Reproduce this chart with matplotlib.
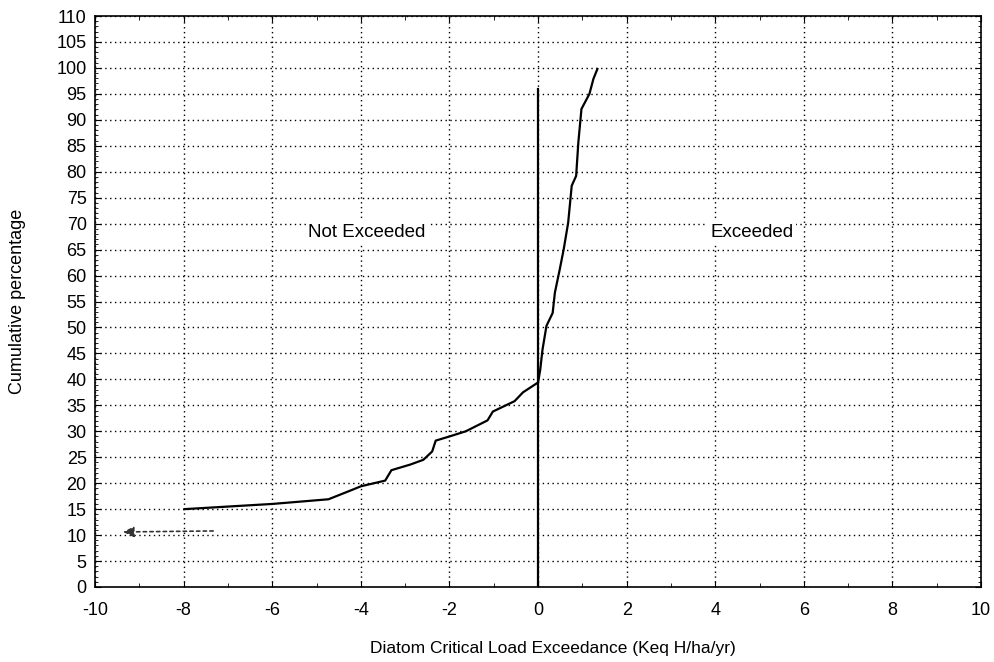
import matplotlib
matplotlib.use("Agg")
import matplotlib.pyplot as plt
from matplotlib.ticker import MultipleLocator

plt.rcParams['font.family'] = ['Liberation Sans', 'DejaVu Sans']
plt.rcParams['axes.unicode_minus'] = False

# Cumulative distribution curve
exceedance = [-7.98, -6.0, -4.73, -4.2, -4.0, -3.45, -3.31, -2.88, -2.59, -2.39, -2.31,
              -2.0, -1.63, -1.14, -1.02, -0.53, -0.34, 0.0, 0.05, 0.1, 0.19, 0.33,
              0.38, 0.49, 0.58, 0.68, 0.76, 0.86, 0.91, 0.98, 1.16, 1.25, 1.34]
cum_pct = [15.0, 16.0, 16.9, 18.7, 19.4, 20.5, 22.5, 23.6, 24.5, 26.1, 28.2,
           29.0, 30.0, 32.1, 33.8, 35.8, 37.5, 39.4, 41.9, 45.7, 50.3, 52.8,
           56.7, 61.2, 65.1, 70.2, 77.3, 79.2, 85.7, 92.1, 95.0, 97.9, 99.8]

# Zero-exceedance divider line
divider_x = [0, 0]
divider_y = [0, 96]

# Arrow (off-scale values)
arrow_tail = (-7.27, 10.8)
arrow_tip = (-9.43, 10.6)

region_labels = ["Not Exceeded", "Exceeded"]
region_pos = [(-3.86, 68.3), (4.83, 68.3)]

fig = plt.figure(figsize=(9.95, 6.62), dpi=100)
ax = fig.add_axes([0.0955, 0.1133, 0.8905, 0.8625])

ax.set_xlim(-10, 10)
ax.set_ylim(0, 110)
ax.xaxis.set_major_locator(MultipleLocator(2))
ax.xaxis.set_minor_locator(MultipleLocator(1))
ax.yaxis.set_major_locator(MultipleLocator(5))
ax.yaxis.set_minor_locator(MultipleLocator(1))

ax.grid(True, which='major', color='black', linestyle=(0, (1, 2.5)), linewidth=1.0)
ax.set_axisbelow(True)

ax.plot(exceedance, cum_pct, color='black', linewidth=1.6, zorder=3)
ax.plot(divider_x, divider_y, color='black', linewidth=1.6, zorder=3)

ax.annotate('', xy=arrow_tip, xytext=arrow_tail,
            arrowprops=dict(arrowstyle='-|>', linestyle=(0, (2, 2)), color='#333333',
                            linewidth=1.2, mutation_scale=16))

for t, (x, y) in zip(region_labels, region_pos):
    ax.text(x, y, t, ha='center', va='center', fontsize=13.5, zorder=4,
            bbox=dict(facecolor='white', edgecolor='none', pad=2))

ax.tick_params(axis='both', which='major', direction='in', length=4, labelsize=13,
               top=True, right=True)
ax.tick_params(axis='x', which='major', pad=11)
ax.tick_params(axis='y', which='major', pad=6)
ax.tick_params(axis='x', which='minor', direction='in', length=3, top=True)
ax.tick_params(axis='y', which='minor', direction='in', length=2, right=True)
for s in ax.spines.values():
    s.set_linewidth(1.2)
    s.set_color('black')

ax.set_xlabel('Diatom Critical Load Exceedance (Keq H/ha/yr)', fontsize=12.5)
ax.xaxis.set_label_coords(0.517, -0.095)
ax.set_ylabel('Cumulative percentage', fontsize=13, labelpad=22)

fig.savefig('out.png', dpi=100)
